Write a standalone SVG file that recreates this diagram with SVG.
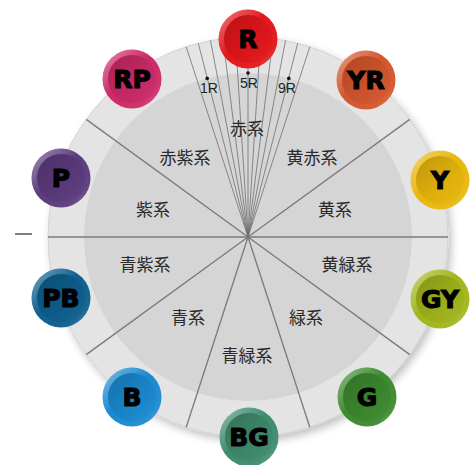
<svg xmlns="http://www.w3.org/2000/svg" width="472" height="465" viewBox="0 0 472 465">
<style>
.ring{fill:#e4e4e4;stroke:#d2d2d2;stroke-width:1}
.inner{fill:#d5d5d5}
.major{stroke:#7a7a7a;stroke-width:1.3;fill:none}
.fine{stroke:#6e6e6e;stroke-width:0.8;fill:none}
.sector{font-family:"Noto Sans CJK JP","Noto Sans CJK SC",sans-serif;font-size:17px;fill:#2a2a2a;text-anchor:middle}
.sub{font-family:"Liberation Sans",Arial,sans-serif;font-size:14px;fill:#222;text-anchor:middle}
.badge-label{font-family:"DejaVu Sans",sans-serif;font-weight:bold;font-size:25px;fill:#000;stroke:#000;stroke-width:1.1;text-anchor:middle}
.rim{fill:url(#rimGrad)}
.disc{fill:url(#discGrad)}
</style>
<defs>
<filter id="shadow" x="-10%" y="-10%" width="125%" height="125%">
<feGaussianBlur in="SourceAlpha" stdDeviation="4"/>
<feOffset dx="3" dy="4" result="b"/>
<feComponentTransfer><feFuncA type="linear" slope="0.25"/></feComponentTransfer>
<feMerge><feMergeNode/><feMergeNode in="SourceGraphic"/></feMerge>
</filter>
<linearGradient id="rimGrad" x1="0" y1="0" x2="1" y2="1">
<stop offset="0" stop-color="#fff" stop-opacity="0.45"/>
<stop offset="0.45" stop-color="#fff" stop-opacity="0"/>
<stop offset="0.8" stop-color="#fff" stop-opacity="0.05"/>
<stop offset="1" stop-color="#fff" stop-opacity="0.35"/>
</linearGradient>
<linearGradient id="discGrad" x1="0" y1="0" x2="1" y2="1">
<stop offset="0" stop-color="#000" stop-opacity="0.18"/>
<stop offset="0.6" stop-color="#000" stop-opacity="0.04"/>
<stop offset="1" stop-color="#fff" stop-opacity="0.05"/>
</linearGradient>
</defs>

<line x1="15" y1="234" x2="32" y2="234" stroke="#000" stroke-width="1"/>

<g id="wheel">
<circle class="ring" cx="248" cy="237" r="200" filter="url(#shadow)"/>
<circle class="inner" cx="248" cy="237" r="164"/>
</g>

<g id="connectors">
<line class="major" x1="248" y1="237" x2="409.8" y2="119.4"/>
<line class="major" x1="248" y1="237" x2="448" y2="237"/>
<line class="major" x1="248" y1="237" x2="409.8" y2="354.6"/>
<line class="major" x1="248" y1="237" x2="309.8" y2="427.2"/>
<line class="major" x1="248" y1="237" x2="186.2" y2="427.2"/>
<line class="major" x1="248" y1="237" x2="86.2" y2="354.6"/>
<line class="major" x1="248" y1="237" x2="48" y2="237"/>
<line class="major" x1="248" y1="237" x2="86.2" y2="119.4"/>
<line class="fine" x1="248" y1="237" x2="186.2" y2="46.8"/>
<line class="fine" x1="248" y1="237" x2="198.3" y2="43.3"/>
<line class="fine" x1="248" y1="237" x2="210.5" y2="40.5"/>
<line class="fine" x1="248" y1="237" x2="222.9" y2="38.6"/>
<line class="fine" x1="248" y1="237" x2="235.4" y2="37.4"/>
<line class="fine" x1="248" y1="237" x2="248" y2="37"/>
<line class="fine" x1="248" y1="237" x2="260.6" y2="37.4"/>
<line class="fine" x1="248" y1="237" x2="273.1" y2="38.6"/>
<line class="fine" x1="248" y1="237" x2="285.5" y2="40.5"/>
<line class="fine" x1="248" y1="237" x2="297.7" y2="43.3"/>
<line class="fine" x1="248" y1="237" x2="309.8" y2="46.8"/>
</g>

<g id="sub-hues">
<circle cx="207.2" cy="78.4" r="1.8" fill="#111"/>
<circle cx="248" cy="73" r="1.8" fill="#111"/>
<circle cx="288.8" cy="78.4" r="1.8" fill="#111"/>
<text class="sub" x="209" y="93">1R</text>
<text class="sub" x="249" y="88">5R</text>
<text class="sub" x="287" y="93">9R</text>
</g>

<g id="sectors">
<text class="sector" x="247" y="135">赤系</text>
<text class="sector" x="312" y="164">黄赤系</text>
<text class="sector" x="335" y="216">黄系</text>
<text class="sector" x="347" y="271">黄緑系</text>
<text class="sector" x="306" y="324">緑系</text>
<text class="sector" x="247" y="362">青緑系</text>
<text class="sector" x="188" y="324">青系</text>
<text class="sector" x="145" y="271">青紫系</text>
<text class="sector" x="153" y="216">紫系</text>
<text class="sector" x="185" y="164">赤紫系</text>
</g>

<g id="node-R">
<circle cx="248" cy="39" r="29.5" fill="#e3161b"/><circle class="rim" cx="248" cy="39" r="29.5"/>
<circle cx="248" cy="39" r="24" fill="#e3161b"/><circle class="disc" cx="248" cy="39" r="24"/>
<text class="badge-label" x="248" y="48">R</text>
</g>
<g id="node-YR">
<circle cx="366" cy="80" r="29.5" fill="#d4562c"/><circle class="rim" cx="366" cy="80" r="29.5"/>
<circle cx="366" cy="80" r="24" fill="#d4562c"/><circle class="disc" cx="366" cy="80" r="24"/>
<text class="badge-label" x="366" y="89">YR</text>
</g>
<g id="node-Y">
<circle cx="440" cy="180" r="29.5" fill="#e8b70c"/><circle class="rim" cx="440" cy="180" r="29.5"/>
<circle cx="440" cy="180" r="24" fill="#e8b70c"/><circle class="disc" cx="440" cy="180" r="24"/>
<text class="badge-label" x="440" y="189">Y</text>
</g>
<g id="node-GY">
<circle cx="440" cy="299" r="29.5" fill="#a2b51c"/><circle class="rim" cx="440" cy="299" r="29.5"/>
<circle cx="440" cy="299" r="24" fill="#a2b51c"/><circle class="disc" cx="440" cy="299" r="24"/>
<text class="badge-label" x="440" y="308">GY</text>
</g>
<g id="node-G">
<circle cx="367" cy="397" r="29.5" fill="#3d8a2f"/><circle class="rim" cx="367" cy="397" r="29.5"/>
<circle cx="367" cy="397" r="24" fill="#3d8a2f"/><circle class="disc" cx="367" cy="397" r="24"/>
<text class="badge-label" x="367" y="406">G</text>
</g>
<g id="node-BG">
<circle cx="249" cy="437" r="29.5" fill="#3f8b6e"/><circle class="rim" cx="249" cy="437" r="29.5"/>
<circle cx="249" cy="437" r="24" fill="#3f8b6e"/><circle class="disc" cx="249" cy="437" r="24"/>
<text class="badge-label" x="249" y="446">BG</text>
</g>
<g id="node-B">
<circle cx="132" cy="397" r="29.5" fill="#1a8ad0"/><circle class="rim" cx="132" cy="397" r="29.5"/>
<circle cx="132" cy="397" r="24" fill="#1a8ad0"/><circle class="disc" cx="132" cy="397" r="24"/>
<text class="badge-label" x="132" y="406">B</text>
</g>
<g id="node-PB">
<circle cx="61" cy="298" r="29.5" fill="#0d5f8f"/><circle class="rim" cx="61" cy="298" r="29.5"/>
<circle cx="61" cy="298" r="24" fill="#0d5f8f"/><circle class="disc" cx="61" cy="298" r="24"/>
<text class="badge-label" x="61" y="307">PB</text>
</g>
<g id="node-P">
<circle cx="61" cy="178" r="29.5" fill="#5c3b7d"/><circle class="rim" cx="61" cy="178" r="29.5"/>
<circle cx="61" cy="178" r="24" fill="#5c3b7d"/><circle class="disc" cx="61" cy="178" r="24"/>
<text class="badge-label" x="61" y="187">P</text>
</g>
<g id="node-RP">
<circle cx="132" cy="79" r="29.5" fill="#cc2a68"/><circle class="rim" cx="132" cy="79" r="29.5"/>
<circle cx="132" cy="79" r="24" fill="#cc2a68"/><circle class="disc" cx="132" cy="79" r="24"/>
<text class="badge-label" x="132" y="88">RP</text>
</g>
</svg>
